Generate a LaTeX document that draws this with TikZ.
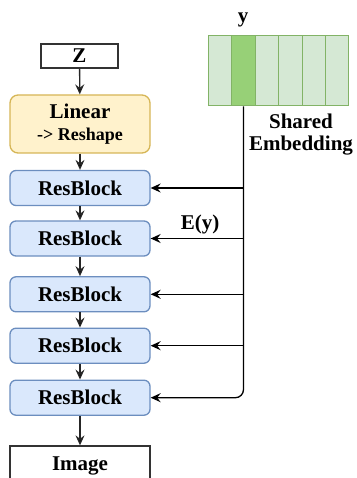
\documentclass[tikz,border=0pt]{standalone}
\usepackage{fontspec}
\setmainfont{Liberation Serif}
\usetikzlibrary{arrows.meta,positioning}

\definecolor{linfill}{HTML}{FFF2CC}
\definecolor{lindraw}{HTML}{D6B656}
\definecolor{resfill}{HTML}{DAE8FC}
\definecolor{resdraw}{HTML}{6C8EBF}
\definecolor{embfill}{HTML}{D5E8D4}
\definecolor{embsel}{HTML}{97D077}
\definecolor{embdraw}{HTML}{82B366}

\begin{document}
\begin{tikzpicture}[x=1pt,y=-1pt,->,>={Stealth[length=10pt,width=9pt,inset=3.5pt]},
                    line width=1.3pt,font=\fontsize{21}{22}\selectfont\bfseries]
  \tikzstyle{plain}=[draw=black!80,fill=white,minimum width=140pt]
  \tikzstyle{linear}=[draw=lindraw,fill=linfill,rounded corners=8pt,
                      minimum width=140pt,minimum height=58pt,align=center]
  \tikzstyle{res}=[draw=resdraw,fill=resfill,rounded corners=6pt,
                   minimum width=140pt,minimum height=35pt]
  \tikzstyle{cell}=[draw=embdraw,line width=1pt,minimum width=23.45pt,
                    minimum height=70pt,inner sep=0pt]

  \clip (0,0) rectangle (356,478);

  \node[plain,minimum width=77pt,minimum height=24pt,inner sep=0pt] (z) at (79.5,56) {Z};
  \node[linear] (lin) at (80,124)
       {Linear\\{\fontsize{18}{20}\selectfont -> Reshape}};
  \node[res] (r1) at (80,188)   {ResBlock};
  \node[res] (r2) at (80,238.5) {ResBlock};
  \node[res] (r3) at (80,294.3) {ResBlock};
  \node[res] (r4) at (80,345.7) {ResBlock};
  \node[res] (r5) at (80,397.7) {ResBlock};
  \node[plain,minimum height=40pt] (img) at (80,466) {Image};

  \foreach \i/\c in {0/embfill,1/embsel,2/embfill,3/embfill,4/embfill,5/embfill}
    \node[cell,fill=\c] (e\i) at (220+23.45*\i,71) {};

  \node (ylab) at (243,20) {y};
  \node[align=center] (shared) at (301,135) {Shared\\Embedding};
  \node (ey) at (200,224) {E(y)};

  \path[draw=black!85] (z) edge (lin)
        (lin) edge (r1)
        (r1) edge (r2)
        (r2) edge (r3)
        (r3) edge (r4)
        (r4) edge (r5)
        (r5) edge (img);

  \draw[rounded corners=8pt] (e1.south) |- (r5.east);
  \foreach \r in {r1,r2,r3,r4}
    \draw (\r.east -| e1.south) -- (\r.east);
\end{tikzpicture}
\end{document}
